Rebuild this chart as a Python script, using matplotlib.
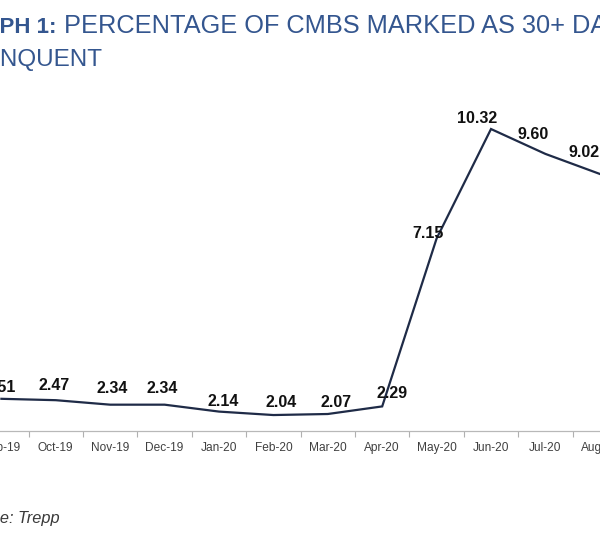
import matplotlib
matplotlib.use("Agg")
import matplotlib.pyplot as plt

# percentage of CMBS loans 30+ days delinquent (Trepp)
months = ["Sep-19", "Oct-19", "Nov-19", "Dec-19", "Jan-20", "Feb-20",
          "Mar-20", "Apr-20", "May-20", "Jun-20", "Jul-20", "Aug-20"]
rates = [2.51, 2.47, 2.34, 2.34, 2.14, 2.04, 2.07, 2.29, 7.15, 10.32, 9.60, 9.02]

# where each value label sits relative to its point (pixels, x right / y up)
label_dx = [-1, -2, 2, -2, 4, 8, 8, 10, -9, -14, -12, -16]
label_dy = [11, 15, 16, 16, 10, 13, 12, 13, 5, 11, 19, 21]

W, H = 600, 544
fig = plt.figure(figsize=(W / 100, H / 100), dpi=100)

# the picture is a crop of a wider chart, so the plot runs past both edges
x0_px, step_px = 1.4, 54.4
left = (x0_px - step_px / 2) / W
width = step_px * len(months) / W
bottom = (H - 431) / H
top = (H - 71) / H
ax = fig.add_axes([left, bottom, width, top - bottom])

x = list(range(len(months)))
ax.plot(x, rates, color="#1f2b47", lw=1.6, solid_joinstyle="miter")
ax.set_xlim(-0.5, len(months) - 0.5)
ax.set_ylim(1.578, 12)

for i, v in enumerate(rates):
    ax.annotate(f"{v:.2f}", (i, v), xytext=(label_dx[i], label_dy[i]),
                textcoords="offset pixels", ha="center", va="center",
                fontsize=11.5, fontweight="bold", family="Liberation Sans",
                color="#111111")

ax.set_xticks(x)
ax.set_xticklabels(months, fontsize=8.6, family="Liberation Sans", color="#404040")
ax.set_xticks([i + 0.5 for i in x[:-1]], minor=True)
ax.tick_params(axis="x", which="major", length=0, pad=8)
ax.tick_params(axis="x", which="minor", length=4, color="#b0b0b0", width=0.8)
ax.set_yticks([])
for s in ["top", "left", "right"]:
    ax.spines[s].set_visible(False)
ax.spines["bottom"].set_color("#b8b8b8")
ax.spines["bottom"].set_linewidth(0.9)

# title and source, also cut off at the left edge
blue = "#34568f"
r = fig.canvas.get_renderer()


def width_of(s, **kw):
    t = fig.text(0, 0, s, **kw)
    w = t.get_window_extent(r).width
    t.remove()
    return w


tkw = dict(family="Liberation Sans", color=blue)
y1 = (H - 33) / H
y2 = (H - 66) / H
gx = -width_of("GRA", fontweight="bold", fontsize=16, **tkw) / W
t1 = fig.text(gx, y1, "GRAPH 1:", fontweight="bold", fontsize=16,
              va="baseline", **tkw)
fig.canvas.draw()
ax.annotate(" PERCENTAGE OF CMBS MARKED AS 30+ DAYS", xy=(1, 0), xycoords=t1,
            va="bottom", ha="left", annotation_clip=False, fontsize=18.3, **tkw)
dx2 = -width_of("DELI", fontsize=17.5, **tkw) / W
fig.text(dx2, y2, "DELINQUENT", va="baseline", fontsize=17.5, **tkw)

skw = dict(fontsize=11.8, family="Liberation Sans", style="italic", color="#3a3a3a")
sx = -width_of("Sourc", **skw) / W
fig.text(sx, (H - 523) / H, "Source: Trepp", va="baseline", **skw)

fig.savefig("out.png", dpi=100)
